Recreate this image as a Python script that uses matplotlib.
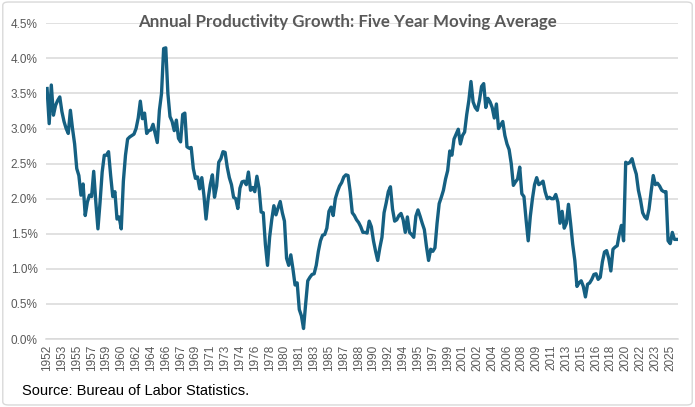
import matplotlib.pyplot as plt
from matplotlib.patches import FancyBboxPatch
from matplotlib.ticker import FuncFormatter
import numpy as np

# Five year moving average of annual productivity growth, quarterly, from 1952 Q1
growth_1952_1963 = [3.57, 3.07, 3.62, 3.19, 3.33, 3.40, 3.45, 3.24, 3.10, 3.00, 2.93, 3.26,
                    3.00, 2.78, 2.43, 2.33, 2.05, 2.21, 1.76, 1.95, 2.05, 2.03, 2.39, 1.95,
                    1.57, 1.95, 2.38, 2.62, 2.62, 2.67, 2.33, 2.03, 2.10, 1.71, 1.74, 1.57,
                    2.25, 2.62, 2.85, 2.88, 2.90, 2.92, 3.00, 3.15, 3.39, 3.14, 3.22, 2.93]
growth_1964_1975 = [2.97, 2.98, 3.06, 2.93, 2.80, 3.26, 3.50, 4.14, 4.15, 3.50, 3.17, 3.10,
                    2.97, 3.12, 2.86, 2.81, 3.20, 3.22, 2.74, 2.72, 2.73, 2.43, 2.29, 2.31,
                    2.14, 2.30, 2.05, 1.71, 2.00, 2.20, 2.34, 2.02, 2.18, 2.52, 2.57, 2.67,
                    2.66, 2.45, 2.30, 2.20, 2.02, 2.00, 1.86, 2.15, 2.24, 2.25, 2.20, 2.38]
growth_1976_1987 = [2.12, 2.16, 2.10, 2.32, 2.15, 1.81, 1.80, 1.35, 1.05, 1.45, 1.70, 1.90,
                    1.77, 1.87, 1.96, 1.80, 1.68, 1.15, 1.05, 1.20, 1.00, 0.77, 0.80, 0.42,
                    0.33, 0.15, 0.50, 0.83, 0.88, 0.92, 0.93, 1.05, 1.25, 1.40, 1.48, 1.49,
                    1.58, 1.82, 1.88, 1.76, 2.00, 2.10, 2.18, 2.23, 2.31, 2.34, 2.33, 2.10]
growth_1988_1999 = [1.80, 1.76, 1.70, 1.66, 1.60, 1.52, 1.52, 1.51, 1.68, 1.60, 1.40, 1.25,
                    1.12, 1.30, 1.45, 1.80, 1.94, 2.10, 2.17, 1.85, 1.68, 1.70, 1.76, 1.79,
                    1.70, 1.52, 1.74, 1.52, 1.49, 1.45, 1.75, 1.84, 1.75, 1.65, 1.56, 1.32,
                    1.12, 1.28, 1.25, 1.30, 1.65, 1.93, 2.02, 2.12, 2.28, 2.40, 2.68, 2.62]
growth_2000_2011 = [2.85, 2.92, 2.99, 2.78, 2.90, 2.95, 3.20, 3.40, 3.67, 3.38, 3.30, 3.26,
                    3.40, 3.60, 3.64, 3.30, 3.43, 3.38, 3.30, 3.15, 3.35, 3.00, 3.05, 3.10,
                    2.90, 2.78, 2.70, 2.50, 2.19, 2.24, 2.28, 2.45, 2.07, 2.03, 1.70, 1.40,
                    1.75, 2.00, 2.20, 2.30, 2.20, 2.22, 2.25, 2.10, 2.00, 2.02, 2.00, 2.00]
growth_2012_2026 = [2.06, 1.95, 1.65, 1.82, 1.58, 1.65, 1.92, 1.65, 1.35, 1.12, 0.75, 0.80,
                    0.83, 0.75, 0.60, 0.78, 0.80, 0.85, 0.92, 0.93, 0.85, 0.88, 1.10, 1.24,
                    1.26, 1.15, 0.97, 1.28, 1.31, 1.33, 1.50, 1.62, 1.40, 2.52, 2.50, 2.52,
                    2.57, 2.45, 2.35, 2.12, 1.98, 1.80, 1.74, 1.71, 1.85, 2.10, 2.33, 2.20,
                    2.22, 2.18, 2.12, 2.10, 2.10, 1.40, 1.36, 1.52, 1.42, 1.42]

growth = (growth_1952_1963 + growth_1964_1975 + growth_1976_1987
          + growth_1988_1999 + growth_2000_2011 + growth_2012_2026)
start_year = 1952
label_every = 7  # quarters between axis labels

quarters = np.arange(len(growth))
years = [str(start_year + q // 4) for q in quarters]

gray_text = '#595959'
grid_color = '#d9d9d9'
line_color = '#156082'

fig = plt.figure(figsize=(6.95, 4.07), dpi=100)
ax = fig.add_axes([0.0662, 0.167, 0.9088, 0.7758])

ax.plot(quarters, growth, color=line_color, lw=2.4, solid_joinstyle='round', zorder=3)

ax.set_xlim(-0.5, len(growth) - 0.5)
ax.set_ylim(0, 4.5)
ax.set_yticks(np.arange(0, 4.51, 0.5))
ax.yaxis.set_major_formatter(FuncFormatter(lambda v, pos: f'{v:.1f}%'))
ax.set_xticks(quarters[::label_every])
ax.set_xticklabels(years[::label_every], rotation=90)

ax.grid(axis='y', color=grid_color, lw=1.1)
ax.set_axisbelow(True)
for side in ['top', 'right', 'left']:
    ax.spines[side].set_visible(False)
ax.spines['bottom'].set_color(grid_color)
ax.spines['bottom'].set_linewidth(1.1)
ax.tick_params(axis='both', length=0, labelcolor=gray_text, labelsize=8.5, pad=6)
ax.tick_params(axis='x', pad=4)
for lbl in ax.get_xticklabels() + ax.get_yticklabels():
    lbl.set_fontfamily('Liberation Sans')

fig.text(0.5, 0.945, 'Annual Productivity Growth: Five Year Moving Average',
         ha='center', va='center', fontsize=12.2, fontweight='bold',
         color=gray_text, family='Lato')
fig.text(0.032, 0.022, 'Source: Bureau of Labor Statistics.', ha='left', va='bottom',
         fontsize=10.5, color='black', family='Liberation Sans')

# border around the whole chart
border = FancyBboxPatch((0.004, 0.005), 0.992, 0.99, boxstyle='round,pad=0,rounding_size=0.008',
                        transform=fig.transFigure, fill=False, edgecolor=grid_color, lw=1.0)
fig.patches.append(border)

plt.savefig('out.png', dpi=100)
plt.close('all')
